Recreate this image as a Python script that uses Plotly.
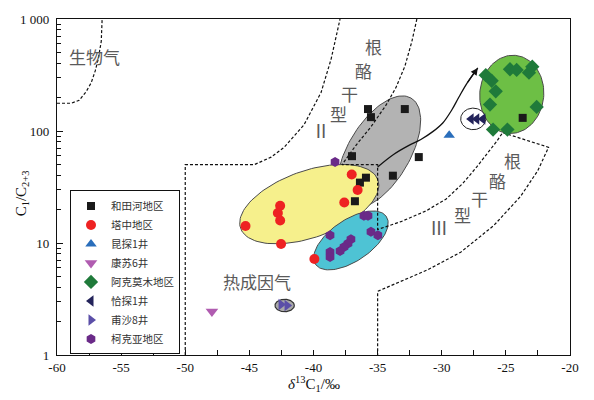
import numpy as np
import plotly.graph_objects as go

# ---------------- data ----------------
hetianhe_x = [-35.75, -35.52, -32.88, -37.0, -31.79, -35.91, -36.38, -33.81, -36.77, -23.69]
hetianhe_y = [157, 133, 157, 59.6, 58.5, 38.3, 34.6, 39.9, 23.6, 131]

tazhong_x = [-37.02, -36.56, -37.60, -42.60, -42.78, -42.60, -45.30, -42.53, -39.93]
tazhong_y = [40.9, 29.7, 23.0, 21.5, 18.5, 15.9, 14.2, 9.8, 7.2]

kuntan_x = [-29.42]
kuntan_y = [91.6]

kangsu_x = [-47.92]
kangsu_y = [2.44]

akmomu_x = [-26.57, -26.11, -25.79, -24.68, -24.16, -23.20, -22.94, -22.60, -26.24, -26.0, -24.88]
akmomu_y = [315, 281, 226, 356, 351, 332, 375, 164, 172, 103, 103]

qiatan_x = [-27.71, -27.27, -26.80]
qiatan_y = [128, 128, 128]

fusha_x = [-42.53, -42.06]
fusha_y = [2.83, 2.77]

kekeya_x = [-38.32, -38.71, -36.07, -35.75, -35.52, -34.98, -37.08, -37.31, -37.62, -37.93, -38.71, -38.71]
kekeya_y = [52.9, 11.7, 17.5, 17.5, 12.6, 11.7, 10.8, 9.9, 9.2, 8.5, 8.3, 7.5]

x_ticks = [-60, -55, -50, -45, -40, -35, -30, -25, -20]
x_ticktext = ["-60", "-55", "-50", "-45", "-40", "-35", "-30", "-25", "-20"]
y_ticks = [1, 10, 100, 1000]
y_ticktext = ["1", "10", "100", "1 000"]

# boundary lines (delta13C1, C1/C2+3)
bio_x = [-60, -58.89, -58.27, -57.72, -57.33, -57.02, -56.79, -56.55, -56.48]
bio_y = [177, 177, 188, 225, 270, 344, 437, 630, 1000]

b2_x = [-50, -50, -44.63, -43.30, -42.29, -40.74, -39.41, -38.63, -37.93]
b2_y = [1, 50, 50, 58.4, 71.5, 113.5, 221, 437, 1000]

b3_x = [-31.94, -32.33, -32.87, -33.57, -34.35, -35.52, -36.69, -37.78, -35.0, -35.0,
        -33.19, -31.24, -29.68, -28.36, -27.27, -26.34, -25.72, -25.25, -21.67,
        -22.52, -23.85, -25.95, -28.52, -31.09, -33.73, -35.0, -35.0]
b3_y = [1000, 630, 380, 244, 170, 109, 74.5, 50, 50, 13.2,
        15.5, 19.3, 24.6, 34.0, 47.8, 64.6, 80.7, 96.7, 71.5,
        44.1, 26.1, 14.3, 8.28, 5.77, 4.26, 3.70, 1]

arrow_x = [-35.0, -33.73, -32.56, -31.63, -30.70, -29.92, -29.22, -28.67, -28.05, -27.19]
arrow_y = [47.8, 62.1, 74.5, 84.0, 98.7, 118, 154, 200, 265, 366]

# ---------------- layout geometry ----------------
W, H = 594, 400
ML, MR, MT, MB = 57, 24, 12, 45
PW, PH = W - ML - MR, H - MT - MB
XR = [-60, -20]
YR = [0, 3]
PX_X = PW / (XR[1] - XR[0])
PX_D = PH / (YR[1] - YR[0])


def ellipse(cx, cly, a, b, ang, n=120):
    t = np.linspace(0, 2 * np.pi, n)
    u, v = a * np.cos(t), b * np.sin(t)
    A = np.deg2rad(ang)
    dx = (u * np.cos(A) - v * np.sin(A)) / PX_X
    dy = (u * np.sin(A) + v * np.cos(A)) / PX_D
    return cx + dx, 10 ** (cly + dy)


fig = go.Figure()


def add_ell(cx, cly, a, b, ang, fill, line="#4a4a4a", lw=1):
    ex, ey = ellipse(cx, cly, a, b, ang)
    fig.add_trace(go.Scatter(x=ex, y=ey, mode="lines", fill="toself", fillcolor=fill,
                             line=dict(color=line, width=lw), hoverinfo="skip", showlegend=False))


add_ell(-34.90, 1.810, 64, 31, 60, "#b3b3b3")
add_ell(-40.33, 1.347, 73, 34, 20, "#f6f08c")
add_ell(-37.08, 1.023, 43, 21, 35, "#4ec3d4")
add_ell(-24.54, 2.327, 40, 32, 85, "#6dbf45")
add_ell(-27.55, 2.108, 12.5, 11, 0, "#ffffff", "#222222", 1)
add_ell(-42.25, 0.442, 9.7, 6.3, 0, "#a9a9a9", "#333333", 1.2)

dash = "3px,2px"
for bx, by in [(bio_x, bio_y), (b2_x, b2_y), (b3_x, b3_y)]:
    fig.add_trace(go.Scatter(x=bx, y=by, mode="lines", line=dict(color="#111", width=1.2, dash=dash),
                             hoverinfo="skip", showlegend=False))

fig.add_trace(go.Scatter(x=arrow_x, y=arrow_y, mode="lines", line=dict(color="#111", width=1.3),
                         hoverinfo="skip", showlegend=False, line_shape="spline"))
fig.add_annotation(x=arrow_x[-1], y=np.log10(arrow_y[-1]), ax=arrow_x[-2], ay=np.log10(arrow_y[-2]),
                   axref="x", ayref="y", xref="x", yref="y", text="", showarrow=True,
                   arrowhead=2, arrowsize=1.1, arrowwidth=1.3, arrowcolor="#111")

series = [
    ("和田河地区", hetianhe_x, hetianhe_y, "square", "#1a1a1a", 8),
    ("塔中地区", tazhong_x, tazhong_y, "circle", "#ee2222", 10),
    ("昆探1井", kuntan_x, kuntan_y, "triangle-up", "#2a6ebb", 10),
    ("康苏6井", kangsu_x, kangsu_y, "triangle-down", "#b05cb0", 11),
    ("阿克莫木地区", akmomu_x, akmomu_y, "diamond", "#1f7a3a", 11),
    ("恰探1井", qiatan_x, qiatan_y, "triangle-left", "#23235a", 10),
    ("甫沙8井", fusha_x, fusha_y, "triangle-right", "#5b4fa8", 10),
    ("柯克亚地区", kekeya_x, kekeya_y, "hexagon", "#6a2a88", 10),
]
for name, sx, sy, sym, col, sz in series:
    fig.add_trace(go.Scatter(x=sx, y=sy, mode="markers", name=name,
                             marker=dict(symbol=sym, color=col, size=sz, line=dict(width=0))))

lab_font = dict(family="Noto Sans CJK SC", size=17, color="#5a5a5a")
labels = [
    ("生物气", -57.07, 2.668),
    ("根", -35.29, 2.755), ("酪", -36.14, 2.536), ("干", -37.23, 2.335), ("型", -38.09, 2.160),
    ("Ⅱ", -39.41, 1.994),
    ("根", -24.49, 1.734), ("酪", -25.66, 1.559), ("干", -27.09, 1.399), ("型", -28.39, 1.253),
    ("Ⅲ", -30.21, 1.122),
    ("热成因气", -44.39, 0.656),
]
for t, lx, ly in labels:
    f = dict(lab_font)
    if t in ("Ⅱ", "Ⅲ"):
        f = dict(family="Liberation Serif, Noto Sans CJK SC", size=18, color="#5a5a5a")
    fig.add_annotation(x=lx, y=ly, xref="x", yref="y", text=t, showarrow=False, font=f,
                       xanchor="center", yanchor="middle")

fig.add_annotation(x=-40, y=(MT + PH - 385) / PH, xref="x", yref="paper",
                   text="<i>δ</i><sup>13</sup>C<sub>1</sub>/‰", showarrow=False,
                   xanchor="center", yanchor="middle",
                   font=dict(family="Liberation Serif", size=15, color="#111"))
fig.add_annotation(x=(22 - ML) / PW, y=(MT + PH - 190) / PH, xref="paper", yref="paper",
                   text="C<sub>1</sub>/C<sub>2+3</sub>", showarrow=False, textangle=-90,
                   xanchor="center", yanchor="middle",
                   font=dict(family="Liberation Serif", size=15, color="#111"))

tick_font = dict(family="Liberation Serif", size=13, color="#111")
fig.update_xaxes(range=XR, tickvals=x_ticks, ticktext=x_ticktext, ticks="inside", ticklen=5,
                 tickcolor="#111", showline=True, linecolor="#111", linewidth=1.2, mirror=True,
                 showgrid=False, zeroline=False, tickfont=tick_font,
                 minor=dict(dtick=2.5, ticks="inside", ticklen=5, tickcolor="#111", showgrid=False))
minor_y = [m * 10 ** d for d in range(3) for m in range(2, 10)]
fig.update_yaxes(type="log", range=YR, tickvals=y_ticks, ticktext=y_ticktext, ticks="inside",
                 ticklen=6, tickcolor="#111", showline=True, linecolor="#111", linewidth=1.2,
                 mirror=True, showgrid=False, zeroline=False, tickfont=tick_font,
                 ticklabelstandoff=4,
                 minor=dict(tickvals=minor_y, ticks="inside", ticklen=4, tickcolor="#111", showgrid=False))

fig.update_layout(
    width=W, height=H, margin=dict(l=ML, r=MR, t=MT, b=MB),
    paper_bgcolor="white", plot_bgcolor="white",
    legend=dict(x=(70 - ML) / PW, y=(MT + PH - 187) / PH, xanchor="left", yanchor="top",
                bordercolor="#111", borderwidth=1, bgcolor="white",
                font=dict(family="Noto Sans CJK SC", size=10.5, color="#333"),
                itemwidth=30, tracegroupgap=0),
    showlegend=True,
)

fig.write_html("out.html", config={"displayModeBar": False},
               post_script="document.body.style.margin='0';")
